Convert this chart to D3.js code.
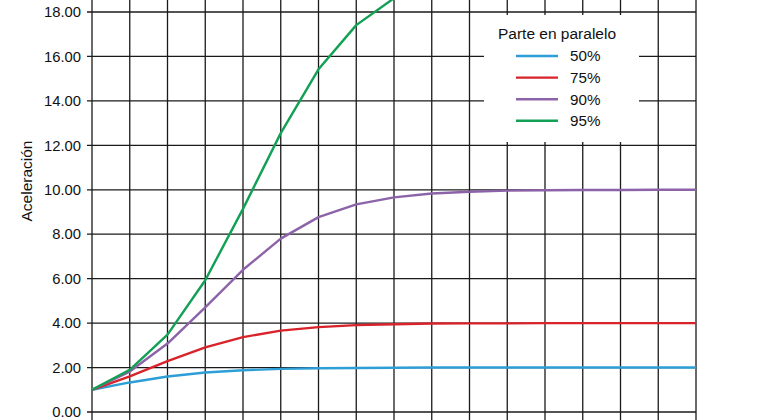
<!DOCTYPE html>
<html>
<head>
<meta charset="utf-8">
<script src="https://cdn.jsdelivr.net/npm/d3@7"></script>
<style>
  html, body { margin: 0; padding: 0; background: #fff; }
  svg { display: block; }
  text { font-family: "Liberation Sans", Arial, sans-serif; fill: #111; }
</style>
</head>
<body>
<svg id="chart" width="768" height="420"></svg>
<script>
// Data
const processors = [1, 2, 4, 8, 16, 32, 64, 128, 256, 512, 1024, 2048, 4096, 8192, 16384, 32768, 65536];
const seriesNames = ["50%", "75%", "90%", "95%"];
const seriesColors = ["#2e9fd6", "#d8232a", "#8c63a8", "#12a055"];
const s50 = [1.00, 1.33, 1.60, 1.78, 1.88, 1.94, 1.97, 1.98, 1.99, 2.00, 2.00, 2.00, 2.00, 2.00, 2.00, 2.00, 2.00];
const s75 = [1.00, 1.60, 2.29, 2.91, 3.37, 3.66, 3.82, 3.91, 3.95, 3.98, 3.99, 3.99, 4.00, 4.00, 4.00, 4.00, 4.00];
const s90 = [1.00, 1.82, 3.08, 4.71, 6.40, 7.80, 8.77, 9.34, 9.66, 9.83, 9.91, 9.96, 9.98, 9.99, 9.99, 10.00, 10.00];
const s95 = [1.00, 1.90, 3.48, 5.93, 9.14, 12.55, 15.42, 17.41, 18.62, 19.28, 19.64, 19.82, 19.91, 19.95, 19.98, 19.99, 19.99];
const yTicks = [0, 2, 4, 6, 8, 10, 12, 14, 16, 18];
const yTitle = "Aceleración";
const legendTitle = "Parte en paralelo";

const seriesValues = [s50, s75, s90, s95];

const svg = d3.select("#chart");
const x = d3.scaleLog().base(2).domain([1, 65536]).range([92, 696]);
const y = d3.scaleLinear().domain([0, 18]).range([412, 12]);

const grid = svg.append("g").attr("stroke", "#1a1a1a").attr("stroke-width", 1.3);
// vertical grid lines
grid.selectAll("line.v").data(processors).enter().append("line")
  .attr("x1", d => x(d)).attr("x2", d => x(d))
  .attr("y1", y(18.6)).attr("y2", y(0) + 8);
// horizontal grid lines
grid.selectAll("line.h").data(yTicks).enter().append("line")
  .attr("x1", x(1) - 5).attr("x2", x(65536))
  .attr("y1", d => y(d)).attr("y2", d => y(d));

// y tick labels
svg.append("g").selectAll("text").data(yTicks).enter().append("text")
  .attr("x", 81).attr("y", d => y(d)).attr("dy", "0.35em")
  .attr("text-anchor", "end").attr("font-size", 14.8)
  .text(d3.format(".2f"));

// y title
svg.append("text")
  .attr("transform", `translate(32,181) rotate(-90)`)
  .attr("text-anchor", "middle").attr("font-size", 15.5)
  .text(yTitle);

// series lines
const line = d3.line().x((d, i) => x(processors[i])).y(d => y(d));
svg.append("g").selectAll("path").data(seriesValues).enter().append("path")
  .attr("d", d => line(d))
  .attr("fill", "none")
  .attr("stroke", (d, i) => seriesColors[i])
  .attr("stroke-width", 2.4)
  .attr("stroke-linejoin", "round");

// legend
const lg = svg.append("g");
lg.append("rect").attr("x", 484).attr("y", 15).attr("width", 155).attr("height", 127).attr("fill", "#fff");
lg.append("text").attr("x", 557).attr("y", 34).attr("dy", "0.35em")
  .attr("text-anchor", "middle").attr("font-size", 15.5).text(legendTitle);
const items = lg.selectAll("g.item").data(seriesNames).enter().append("g")
  .attr("transform", (d, i) => `translate(0,${56 + i * 21.6})`);
items.append("line").attr("x1", 516).attr("x2", 558).attr("y1", 0).attr("y2", 0)
  .attr("stroke", (d, i) => seriesColors[i]).attr("stroke-width", 2.4);
items.append("text").attr("x", 570).attr("y", 0).attr("dy", "0.35em")
  .attr("font-size", 15.2).text(d => d);
</script>
</body>
</html>
